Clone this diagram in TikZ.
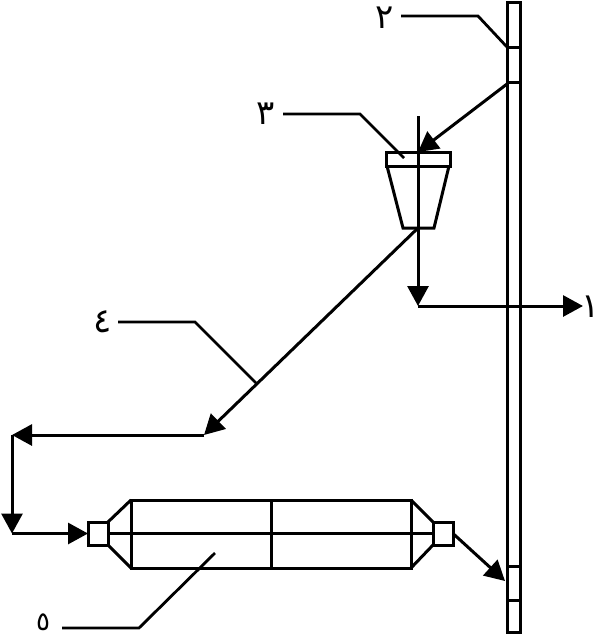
\documentclass[tikz,border=0pt]{standalone}
\usepackage{fontspec}
\newfontfamily\arabicfont[Script=Arabic]{DejaVu Sans}
\TeXXeTstate=1
\usetikzlibrary{arrows.meta,positioning}

\begin{document}
\begin{tikzpicture}[
  x=1pt,y=-1pt,line width=3pt,line join=miter,
  part/.style={draw,rectangle,inner sep=0pt,outer sep=0pt,minimum width=#1},
  num/.style={font=\arabicfont\fontsize{34}{34}\selectfont,inner sep=0pt},
  lead/.style={line width=2.8pt},
  arr/.style={-{Triangle[length=20pt,width=21pt]},line width=3pt}
]
\useasboundingbox (0,0) rectangle (602,638);
% column
\node[part=13pt,minimum height=630pt] (column) at (513.5,317) {};
\coordinate (div1) at (507,47);
\coordinate (div2) at (507,82);
\coordinate (div3) at (507,566);
\coordinate (div4) at (507,600);
\foreach \d in {div1,div2,div3,div4}
  \draw (\d) -- ++(13,0);
% hopper
\node[part=64pt,minimum height=14pt] (cap) at (418,159) {};
\coordinate (capl) at (387,166);
\coordinate (capr) at (449,166);
\coordinate (hopl) at (403,228);
\coordinate (hopr) at (434,228);
\draw (capl) -- (hopl) -- (hopr) -- (capr);
% drum
\node[part=280pt,minimum height=68pt] (drum) at (271,534) {};
\node[part=20pt,minimum height=23pt] (inbox) at (98,533.5) {};
\node[part=20pt,minimum height=23pt] (outbox) at (443,533.5) {};
\draw (inbox.north east) -- (drum.north west);
\draw (inbox.south east) -- (drum.south west);
\draw (outbox.north west) -- (drum.north east);
\draw (outbox.south west) -- (drum.south east);
\draw (inbox.east) -- (outbox.west);
\draw (drum.north) -- (drum.south);
% flow points
\coordinate (feed) at (418,116);
\coordinate (hopout) at (418,228);
\coordinate (turn) at (418,306);
\coordinate (split) at (204,435);
\coordinate (corner) at (12,435);
\coordinate (low) at (12,533.5);
\coordinate (ret) at (505,581);
\node[num] (n1) at (591,307) {\beginR ١\endR};
\node[num] (n2) at (385,18) {\beginR ٢\endR};
\node[num] (n3) at (266,114) {\beginR ٣\endR};
\node[num] (n4) at (103,322) {\beginR ٤\endR};
\node[num,font=\arabicfont\fontsize{26}{26}\selectfont] (n5) at (43,622) {\beginR ٥\endR};
% flows
\draw (feed) -- (hopout);
\draw[arr] (div2) ++(0,2) -- (418,152);
\draw[arr] (hopout) -- (turn);
\draw[arr] (turn) -- (583,306);
\draw[arr] (hopout) -- (split);
\draw[arr] (split) -- (corner);
\draw[arr] (corner) -- (low);
\draw[arr] (low) -- (inbox.west);
\draw[arr] (outbox.east) -- (ret);
% leaders
\coordinate (k2) at (478,16);
\coordinate (k3) at (360,114);
\coordinate (k4) at (195,322);
\coordinate (k5) at (139,628);
\draw[lead] (401,16) -- (k2) -- (div1);
\draw[lead] (283,114) -- (k3) -- (404,158);
\draw[lead] (118,322) -- (k4) -- (256,383);
\draw[lead] (62,628) -- (k5) -- (215,553);
\end{tikzpicture}
\end{document}
